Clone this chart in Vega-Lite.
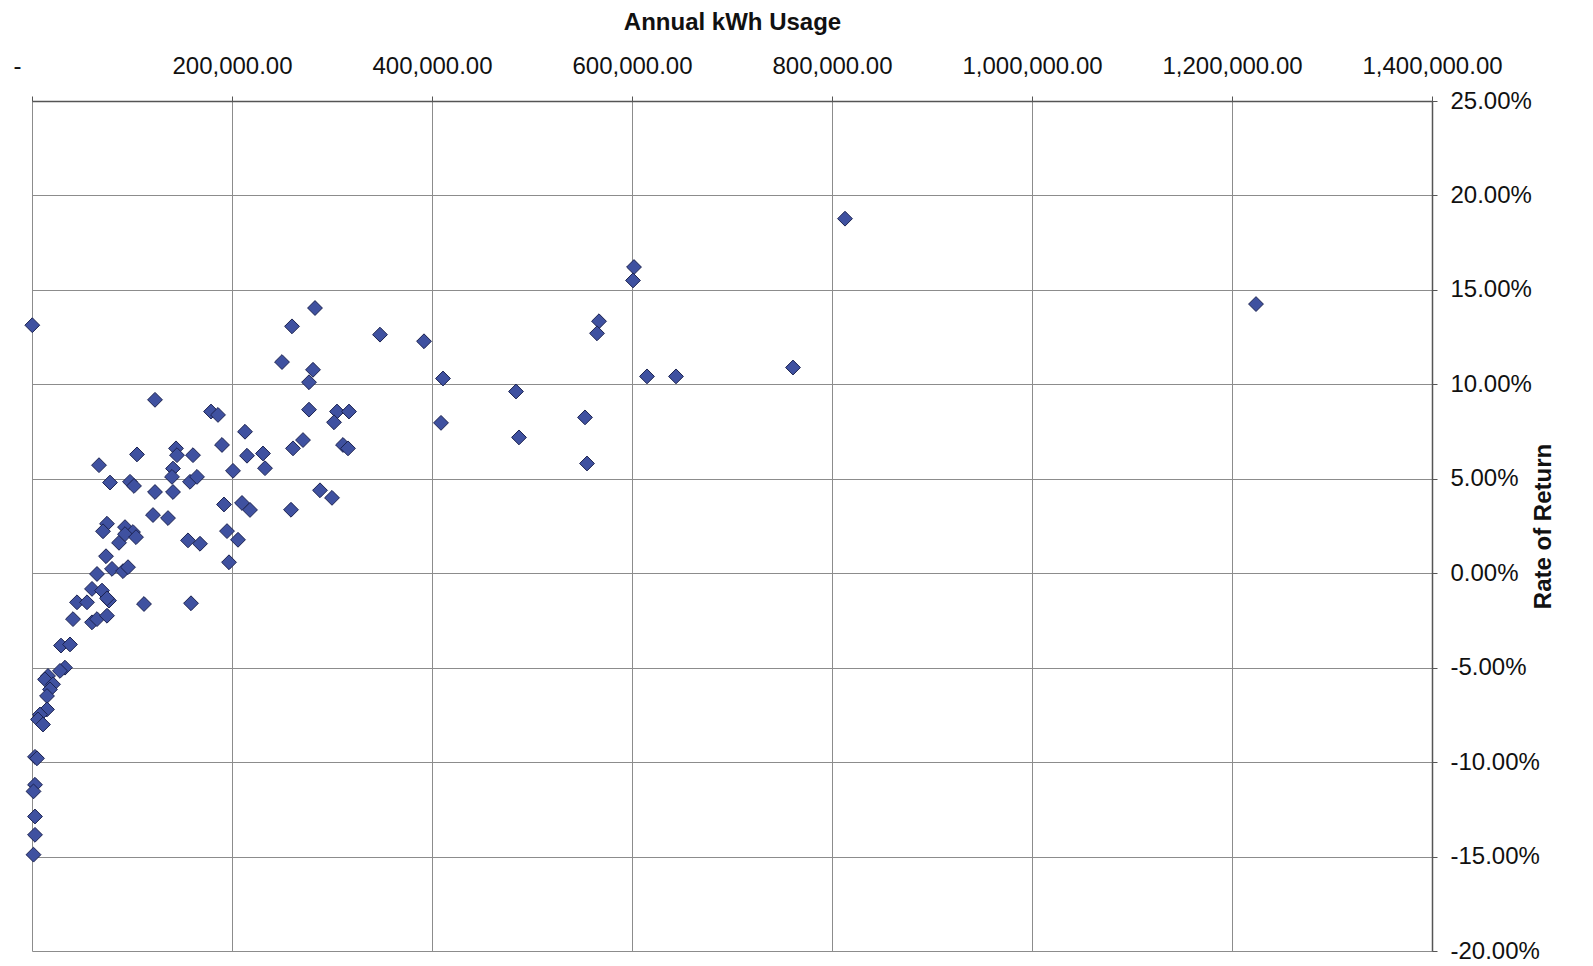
{
  "$schema": "https://vega.github.io/schema/vega-lite/v6.json",
  "autosize": {"type": "none"},
  "padding": {"left": 32, "top": 101, "right": 161, "bottom": 15},
  "width": 1400,
  "height": 850,
  "background": "white",
  "config": {
    "view": {"stroke": null},
    "font": "Liberation Sans",
    "axis": {
      "labelFont": "Liberation Sans",
      "titleFont": "Liberation Sans",
      "labelFontSize": 24,
      "titleFontSize": 24,
      "labelColor": "#111",
      "titleColor": "#111",
      "gridColor": "#8c8c8c",
      "gridWidth": 1,
      "gridOpacity": 1,
      "domainColor": "#555",
      "domainWidth": 1.5,
      "tickColor": "#555",
      "tickSize": 5,
      "labelFontWeight": "normal",
      "titleFontWeight": "bold"
    }
  },
  "data": {
    "values": [
      {"kwh": 300, "ror": 0.1313},
      {"kwh": 123000, "ror": 0.0918},
      {"kwh": 179000, "ror": 0.0856},
      {"kwh": 186000, "ror": 0.0838},
      {"kwh": 144000, "ror": 0.0661},
      {"kwh": 145000, "ror": 0.0625},
      {"kwh": 105000, "ror": 0.0629},
      {"kwh": 161000, "ror": 0.0625},
      {"kwh": 67000, "ror": 0.0572},
      {"kwh": 190000, "ror": 0.0679},
      {"kwh": 141000, "ror": 0.0554},
      {"kwh": 140000, "ror": 0.0510},
      {"kwh": 141000, "ror": 0.0430},
      {"kwh": 123000, "ror": 0.0430},
      {"kwh": 78000, "ror": 0.0480},
      {"kwh": 98000, "ror": 0.0484},
      {"kwh": 102000, "ror": 0.0462},
      {"kwh": 158000, "ror": 0.0484},
      {"kwh": 165000, "ror": 0.0510},
      {"kwh": 201000, "ror": 0.0542},
      {"kwh": 213000, "ror": 0.0749},
      {"kwh": 215000, "ror": 0.0622},
      {"kwh": 231000, "ror": 0.0634},
      {"kwh": 233000, "ror": 0.0556},
      {"kwh": 261000, "ror": 0.0661},
      {"kwh": 271000, "ror": 0.0705},
      {"kwh": 311000, "ror": 0.0679},
      {"kwh": 316000, "ror": 0.0661},
      {"kwh": 277000, "ror": 0.0866},
      {"kwh": 305000, "ror": 0.0856},
      {"kwh": 317000, "ror": 0.0856},
      {"kwh": 302000, "ror": 0.0799},
      {"kwh": 250000, "ror": 0.1118},
      {"kwh": 281000, "ror": 0.1077},
      {"kwh": 277000, "ror": 0.1011},
      {"kwh": 260000, "ror": 0.1307},
      {"kwh": 283000, "ror": 0.1404},
      {"kwh": 348000, "ror": 0.1263},
      {"kwh": 392000, "ror": 0.1228},
      {"kwh": 411000, "ror": 0.1031},
      {"kwh": 409000, "ror": 0.0796},
      {"kwh": 484000, "ror": 0.0962},
      {"kwh": 487000, "ror": 0.0719},
      {"kwh": 813000, "ror": 0.1877},
      {"kwh": 602000, "ror": 0.1621},
      {"kwh": 601000, "ror": 0.1550},
      {"kwh": 567000, "ror": 0.1334},
      {"kwh": 565000, "ror": 0.1270},
      {"kwh": 615000, "ror": 0.1042},
      {"kwh": 644000, "ror": 0.1042},
      {"kwh": 761000, "ror": 0.1089},
      {"kwh": 553000, "ror": 0.0825},
      {"kwh": 555000, "ror": 0.0581},
      {"kwh": 1224000, "ror": 0.1425},
      {"kwh": 121000, "ror": 0.0308},
      {"kwh": 136000, "ror": 0.0292},
      {"kwh": 192000, "ror": 0.0364},
      {"kwh": 210000, "ror": 0.0372},
      {"kwh": 218000, "ror": 0.0335},
      {"kwh": 259000, "ror": 0.0336},
      {"kwh": 288000, "ror": 0.0439},
      {"kwh": 300000, "ror": 0.0399},
      {"kwh": 87000, "ror": 0.0161},
      {"kwh": 75000, "ror": 0.0262},
      {"kwh": 71000, "ror": 0.0222},
      {"kwh": 93000, "ror": 0.0244},
      {"kwh": 101000, "ror": 0.0218},
      {"kwh": 93000, "ror": 0.0207},
      {"kwh": 104000, "ror": 0.0191},
      {"kwh": 156000, "ror": 0.0174},
      {"kwh": 168000, "ror": 0.0156},
      {"kwh": 195000, "ror": 0.0223},
      {"kwh": 206000, "ror": 0.0177},
      {"kwh": 197000, "ror": 0.0058},
      {"kwh": 74000, "ror": 0.0090},
      {"kwh": 65000, "ror": -0.0004},
      {"kwh": 80000, "ror": 0.0023},
      {"kwh": 91000, "ror": 0.0011},
      {"kwh": 96000, "ror": 0.0032},
      {"kwh": 60000, "ror": -0.0083},
      {"kwh": 70000, "ror": -0.0092},
      {"kwh": 45000, "ror": -0.0154},
      {"kwh": 55000, "ror": -0.0154},
      {"kwh": 77000, "ror": -0.0145},
      {"kwh": 75000, "ror": -0.0133},
      {"kwh": 41000, "ror": -0.0243},
      {"kwh": 60000, "ror": -0.0260},
      {"kwh": 65000, "ror": -0.0243},
      {"kwh": 75000, "ror": -0.0225},
      {"kwh": 112000, "ror": -0.0163},
      {"kwh": 159000, "ror": -0.0159},
      {"kwh": 29000, "ror": -0.0383},
      {"kwh": 38000, "ror": -0.0377},
      {"kwh": 33000, "ror": -0.0500},
      {"kwh": 28000, "ror": -0.0517},
      {"kwh": 16000, "ror": -0.0544},
      {"kwh": 13000, "ror": -0.0562},
      {"kwh": 21000, "ror": -0.0588},
      {"kwh": 18000, "ror": -0.0615},
      {"kwh": 15000, "ror": -0.0650},
      {"kwh": 15000, "ror": -0.0721},
      {"kwh": 8000, "ror": -0.0748},
      {"kwh": 6000, "ror": -0.0774},
      {"kwh": 11000, "ror": -0.0801},
      {"kwh": 3000, "ror": -0.0972},
      {"kwh": 5000, "ror": -0.0980},
      {"kwh": 3000, "ror": -0.1120},
      {"kwh": 1500, "ror": -0.1155},
      {"kwh": 3000, "ror": -0.1288},
      {"kwh": 3000, "ror": -0.1385},
      {"kwh": 1500, "ror": -0.1490}
    ]
  },
  "mark": {
    "type": "point",
    "shape": "diamond",
    "filled": true,
    "size": 220,
    "fill": "#3f51a0",
    "stroke": "#1c2350",
    "strokeWidth": 1,
    "opacity": 1
  },
  "encoding": {
    "x": {
      "field": "kwh",
      "type": "quantitative",
      "scale": {"domain": [0, 1400000], "nice": false, "zero": false},
      "axis": {
        "orient": "top",
        "title": "Annual kWh Usage",
        "values": [0, 200000, 400000, 600000, 800000, 1000000, 1200000, 1400000],
        "labelExpr": "datum.value === 0 ? '-' : format(datum.value, ',.2f')",
        "labelPadding": 18,
        "titlePadding": 20,
        "labelOverlap": false,
        "labelFlush": false,
        "labelOffset": {"condition": {"test": "datum.value === 0", "value": -15}, "value": 0}
      }
    },
    "y": {
      "field": "ror",
      "type": "quantitative",
      "scale": {"domain": [-0.2, 0.25], "nice": false, "zero": false},
      "axis": {
        "orient": "right",
        "title": "Rate of Return",
        "values": [-0.2, -0.15, -0.1, -0.05, 0, 0.05, 0.1, 0.15, 0.2, 0.25],
        "labelExpr": "replace(format(datum.value, '.2%'), '\u2212', '-')",
        "labelAlign": "left",
        "labelBaseline": "middle",
        "labelPadding": 13,
        "labelOverlap": false,
        "labelFlush": false,
        "titleAngle": 270,
        "titleX": 118,
        "titleY": 425,
        "titleAlign": "center",
        "titleBaseline": "alphabetic"
      }
    }
  }
}
